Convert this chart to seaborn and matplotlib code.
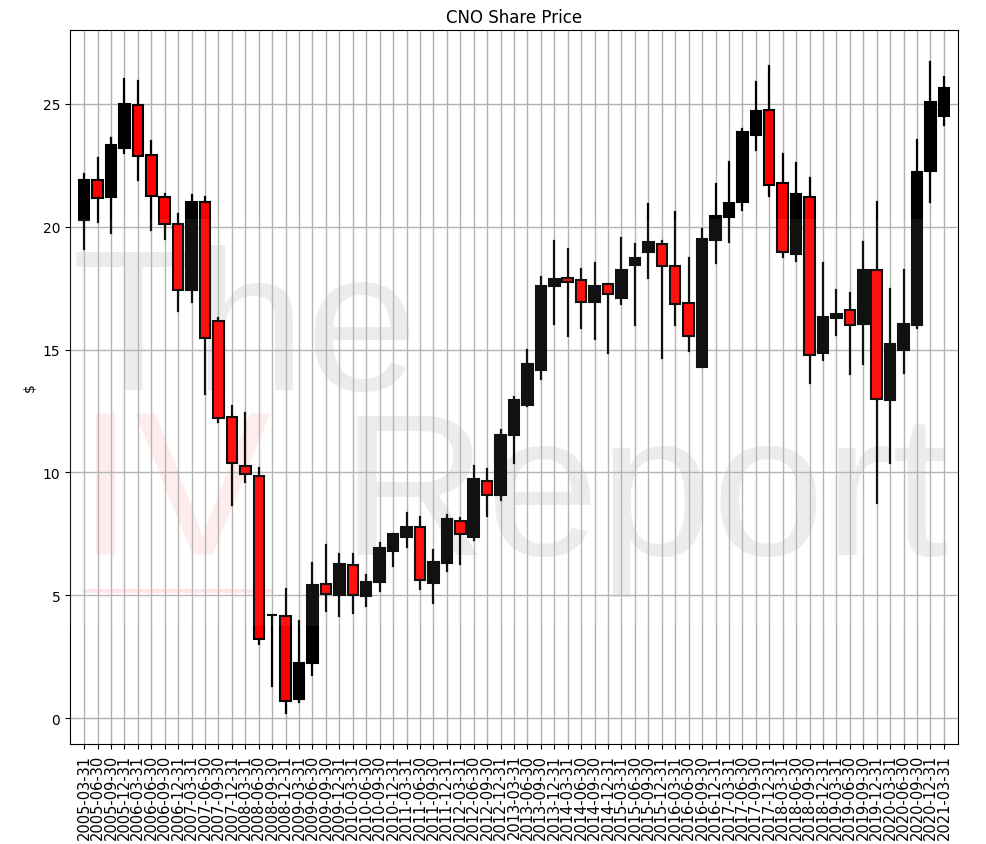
import pandas as pd
import matplotlib
matplotlib.use("Agg")
import matplotlib.pyplot as plt
from matplotlib.patches import Rectangle
import seaborn as sns

# quarter end dates (2005 Q1 .. 2021 Q1)
dates = [f"{y}-{md}" for y in range(2005, 2022)
         for md in ("03-31", "06-30", "09-30", "12-31")][:65]

opens = [20.26, 21.91, 21.19, 23.21, 24.93, 22.90, 21.19, 20.11, 17.43, 20.99,
         16.15, 12.26, 10.26, 9.87, 4.19, 4.16, 0.80, 2.26, 5.48, 5.00,
         6.25, 4.97, 5.54, 6.80, 7.37, 7.78, 5.52, 6.33, 8.02, 7.37,
         9.65, 9.08, 11.52, 12.76, 14.16, 17.57, 17.91, 17.83, 16.92, 17.65,
         17.09, 18.44, 18.97, 19.31, 18.39, 16.91, 14.28, 19.44, 20.39, 20.99,
         23.71, 24.74, 21.78, 18.90, 21.21, 14.84, 16.29, 16.60, 16.02, 18.22,
         12.94, 15.00, 16.00, 22.25, 24.51]
closes = [21.91, 21.17, 23.33, 25.00, 22.87, 21.26, 20.11, 17.43, 21.00, 15.45,
          12.20, 10.39, 9.92, 3.21, 4.19, 0.68, 2.26, 5.43, 5.04, 6.26,
          5.00, 5.56, 6.91, 7.48, 7.79, 5.61, 6.37, 8.09, 7.48, 9.74,
          9.07, 11.54, 12.93, 14.43, 17.57, 17.85, 17.76, 16.94, 17.59, 17.24,
          18.25, 18.73, 19.39, 18.40, 16.86, 15.57, 19.50, 20.45, 20.96, 23.83,
          24.72, 21.68, 18.96, 21.33, 14.76, 16.33, 16.45, 15.98, 18.22, 12.97,
          15.24, 16.02, 22.22, 25.07, 25.65]
highs = [22.15, 22.79, 23.62, 26.02, 25.93, 23.50, 21.33, 20.53, 21.30, 21.19,
         16.29, 12.69, 12.40, 10.19, 4.19, 5.24, 3.96, 6.33, 7.06, 6.67,
         6.70, 5.81, 7.14, 7.48, 8.36, 8.20, 6.83, 8.25, 8.13, 10.26,
         10.12, 11.72, 13.06, 15.00, 17.96, 19.40, 19.07, 18.29, 18.54, 17.65,
         19.54, 19.31, 20.93, 19.40, 20.61, 18.74, 19.92, 21.75, 22.63, 23.97,
         25.89, 26.52, 22.95, 22.59, 21.98, 18.50, 17.44, 17.30, 19.36, 20.99,
         17.47, 18.22, 23.54, 26.71, 26.10]
lows = [19.10, 20.20, 19.76, 22.98, 21.88, 19.88, 19.48, 16.56, 16.92, 13.21,
        12.06, 8.66, 9.60, 3.00, 1.29, 0.23, 0.66, 1.75, 4.36, 4.16,
        4.30, 4.57, 5.17, 6.19, 6.96, 5.27, 4.70, 5.99, 6.26, 7.25,
        8.22, 8.86, 10.39, 12.70, 13.82, 16.02, 15.54, 15.87, 15.41, 14.84,
        16.84, 15.99, 17.90, 14.65, 15.99, 14.92, 14.28, 18.52, 19.36, 20.66,
        23.13, 21.23, 18.75, 18.62, 13.65, 14.57, 15.61, 14.01, 14.40, 8.74,
        10.39, 14.05, 15.87, 21.02, 24.15]

df = pd.DataFrame({"date": dates, "open": opens, "close": closes,
                   "high": highs, "low": lows})
df["idx"] = range(len(df))
df["bottom"] = df[["open", "close"]].min(axis=1)
df["height"] = (df["close"] - df["open"]).abs()
df["up"] = df["close"] >= df["open"]

# long table for the wicks (one vertical segment per quarter)
wicks = pd.concat([df[["idx", "low"]].rename(columns={"low": "price"}),
                   df[["idx", "high"]].rename(columns={"high": "price"})])

fig = plt.figure(figsize=(9.87, 8.45), dpi=100)
ax = fig.add_axes([70 / 987, 1 - 745 / 845, 888 / 987, 714 / 845])

sns.lineplot(data=wicks, x="idx", y="price", units="idx", estimator=None,
             color="black", linewidth=1.6, sort=False, ax=ax, zorder=2)

for is_up, colour in [(True, "black"), (False, "red")]:
    sub = df[df["up"] == is_up].sort_values("idx")
    sns.barplot(data=sub, x="idx", y="height", native_scale=True,
                errorbar=None, width=0.78, color=colour, saturation=1,
                bottom=sub["bottom"].values, edgecolor="black",
                linewidth=1.5, zorder=3, ax=ax)

# watermark
ax.text(0.002, 0.497, "The", transform=ax.transAxes, fontsize=145,
        family="Liberation Sans", color="black", alpha=0.08, zorder=0.4)
ax.text(0.008, 0.266, "IV", transform=ax.transAxes, fontsize=148,
        family="Liberation Sans", color="red", alpha=0.08, zorder=0.4)
ax.text(0.305, 0.266, "Report", transform=ax.transAxes, fontsize=146,
        family="Liberation Sans", color="black", alpha=0.08, zorder=0.4)
ax.plot([0.017, 0.225], [0.214, 0.214], transform=ax.transAxes,
        color="red", alpha=0.1, linewidth=3, zorder=0.4)
ax.add_patch(Rectangle((0, 0.165), 1, 0.57, transform=ax.transAxes,
                       facecolor="white", alpha=0.07, edgecolor="none",
                       zorder=4))

ax.set_xlim(-1.05, 65.05)
ax.set_ylim(-1.05, 28.0)
ax.set_xticks(df["idx"])
ax.set_xticklabels(df["date"], rotation=90, fontsize=10.5)
ax.set_yticks([0, 5, 10, 15, 20, 25])
ax.tick_params(axis="y", labelsize=10)
ax.set_axisbelow(True)
ax.grid(True, color="#b0b0b0", linewidth=1.0)
ax.set_xlabel("")
ax.set_ylabel(r"\$")
ax.set_title("CNO Share Price", fontsize=12)

fig.savefig("out.png", dpi=100)
